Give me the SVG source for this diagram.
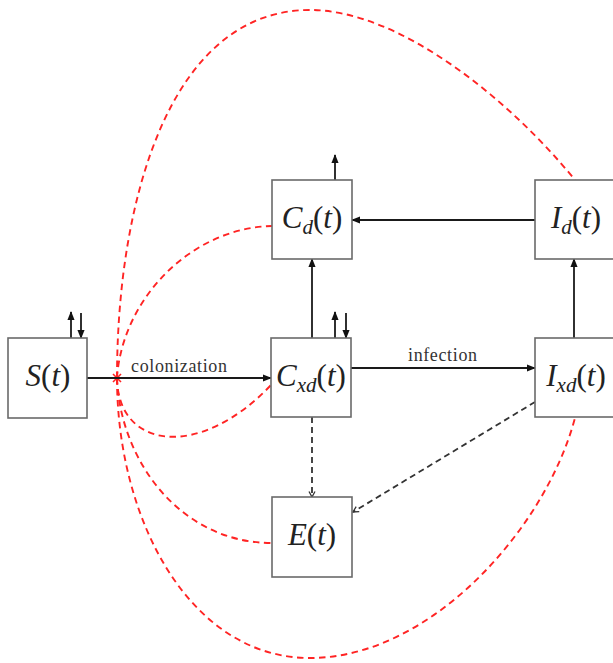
<svg xmlns="http://www.w3.org/2000/svg" width="613" height="663" viewBox="0 0 613 663">
  <style>
    .box { fill: #fff; stroke: #6a6a6a; stroke-width: 1.6; }
    .lbl { font-family: "Liberation Serif", "Times New Roman", serif; font-size: 31px; fill: #222; }
    .it { font-style: italic; }
    .sub { font-style: italic; font-size: 21px; }
    .edge { font-family: "Liberation Serif", "Times New Roman", serif; font-size: 18px; fill: #333; }
    .flow { stroke: #1a1a1a; stroke-width: 1.8; fill: none; marker-end: url(#tri); }
    .dflow { stroke: #333; stroke-width: 1.8; fill: none; stroke-dasharray: 6 4; marker-end: url(#vee); }
    .red { stroke: #ff2424; stroke-width: 1.9; fill: none; stroke-dasharray: 6.5 4.5; }
  </style>
  <defs>
    <marker id="tri" viewBox="0 0 10 8" refX="9" refY="4" markerWidth="9" markerHeight="7.5" markerUnits="userSpaceOnUse" orient="auto">
      <path d="M0,0 L10,4 L0,8 z" fill="#111"/>
    </marker>
    <marker id="vee" viewBox="0 0 8 8" refX="7" refY="4" markerWidth="8" markerHeight="8" markerUnits="userSpaceOnUse" orient="auto">
      <path d="M1.5,1 L7,4 L1.5,7" fill="none" stroke="#333" stroke-width="1.3"/>
    </marker>
  </defs>

  <!-- connectors -->
  <g id="connectors">
    <!-- red dependency curves radiating from the colonization point -->
    <path class="red" d="M117,378 C117,200 170,10 310,10 C400,10 510,100 575,180"/>
    <path class="red" d="M117,378 C122,300 190,228 272,226"/>
    <path class="red" d="M117,378 C118,450 200,460 271,385"/>
    <path class="red" d="M117,378 C120,460 180,543 272,543"/>
    <path class="red" d="M117,378 C117,520 190,658 310,658 C430,658 545,530 575,418"/>
    <path d="M113,374 L121,382 M121,374 L113,382" stroke="#ff2424" stroke-width="1.6"/>

    <!-- solid flows -->
    <line class="flow" x1="87" y1="378" x2="271" y2="378"/>
    <line class="flow" x1="351" y1="368" x2="535" y2="368"/>
    <line class="flow" x1="535" y1="220" x2="352" y2="220"/>
    <line class="flow" x1="312" y1="338" x2="312" y2="259"/>
    <line class="flow" x1="574" y1="338" x2="574" y2="259"/>
    <line class="flow" x1="335" y1="180" x2="335" y2="155"/>

    <!-- births / deaths -->
    <line class="flow" x1="71" y1="338" x2="71" y2="312"/>
    <line class="flow" x1="81" y1="313" x2="81" y2="338"/>
    <line class="flow" x1="335" y1="338" x2="335" y2="312"/>
    <line class="flow" x1="346" y1="313" x2="346" y2="338"/>

    <!-- dashed flows to E -->
    <line class="dflow" x1="312" y1="417" x2="312" y2="497"/>
    <line class="dflow" x1="535" y1="402" x2="353" y2="512"/>

    <text class="edge" x="131" y="372" textLength="96" lengthAdjust="spacing">colonization</text>
    <text class="edge" x="408" y="361" textLength="69" lengthAdjust="spacing">infection</text>
  </g>

  <g id="S">
    <rect class="box" x="8" y="338" width="79" height="80"/>
    <text class="lbl" x="48" y="386" text-anchor="middle"><tspan class="it">S</tspan>(<tspan class="it">t</tspan>)</text>
  </g>

  <g id="Cd">
    <rect class="box" x="272" y="180" width="80" height="79"/>
    <text class="lbl" x="312" y="228" text-anchor="middle"><tspan class="it">C</tspan><tspan class="sub" dy="6">d</tspan><tspan dy="-6">(</tspan><tspan class="it">t</tspan>)</text>
  </g>

  <g id="Id">
    <rect class="box" x="535" y="180" width="80" height="79"/>
    <text class="lbl" x="576" y="228" text-anchor="middle"><tspan class="it">I</tspan><tspan class="sub" dy="6">d</tspan><tspan dy="-6">(</tspan><tspan class="it">t</tspan>)</text>
  </g>

  <g id="Cxd">
    <rect class="box" x="271" y="338" width="80" height="79"/>
    <text class="lbl" x="311" y="386" text-anchor="middle"><tspan class="it">C</tspan><tspan class="sub" dy="6">xd</tspan><tspan dy="-6">(</tspan><tspan class="it">t</tspan>)</text>
  </g>

  <g id="Ixd">
    <rect class="box" x="535" y="338" width="80" height="79"/>
    <text class="lbl" x="576" y="386" text-anchor="middle"><tspan class="it">I</tspan><tspan class="sub" dy="6">xd</tspan><tspan dy="-6">(</tspan><tspan class="it">t</tspan>)</text>
  </g>

  <g id="E">
    <rect class="box" x="272" y="497" width="80" height="80"/>
    <text class="lbl" x="312" y="545" text-anchor="middle"><tspan class="it">E</tspan>(<tspan class="it">t</tspan>)</text>
  </g>
</svg>
